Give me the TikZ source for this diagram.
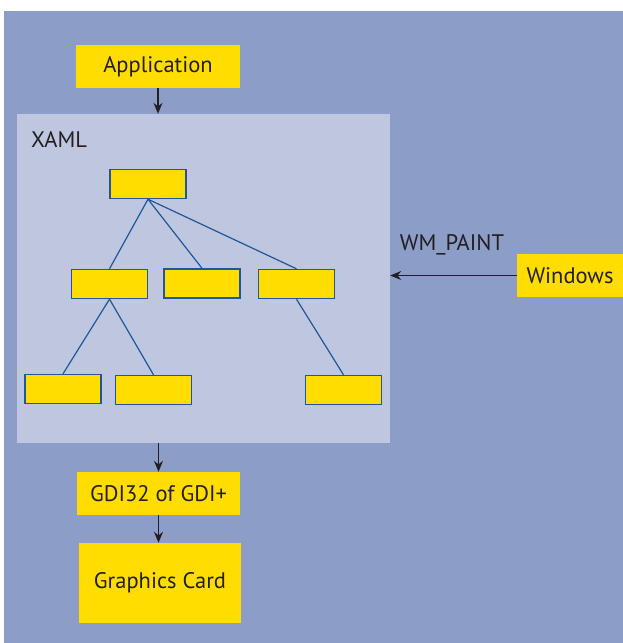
\documentclass[tikz,border=0pt]{standalone}
\usepackage{fontspec}
\setmainfont{PT Sans}
\usetikzlibrary{arrows.meta}
\definecolor{bgblue}{HTML}{8C9DC8}
\definecolor{panelblue}{HTML}{BFC6E0}
\definecolor{boxyellow}{HTML}{FFDD00}
\definecolor{treeblue}{HTML}{1F5799}
\definecolor{ink}{HTML}{231F20}
\begin{document}
\begin{tikzpicture}[x=1pt,y=-1pt,
		yellowbox/.style={fill=boxyellow, text=ink, font=\fontsize{22.5}{27}\selectfont, inner sep=0pt},
		leaf/.style={draw=treeblue, fill=boxyellow, line width=1.4pt, minimum width=76pt, minimum height=29pt, inner sep=0pt},
		flow/.style={-{Stealth[length=11pt,width=9pt]}, line width=1.3pt, ink},
		branch/.style={treeblue, line width=1.2pt}]
				\useasboundingbox (0,0) rectangle (623,643);
				\fill[bgblue] (4,11) rectangle (623,643);

				\node[fill=panelblue, minimum width=373pt, minimum height=329pt, inner sep=0pt] (xaml) at (203.5,278.5) {};
				\node[anchor=west, text=ink, font=\fontsize{22.5}{27}\selectfont, inner sep=0pt] (xamltext) at (31,139) {XAML};

				\node[yellowbox, minimum width=164pt, minimum height=43pt] (app) at (158,66.5) {Application};
				\node[yellowbox, minimum width=163pt, minimum height=43pt] (gdi) at (158.5,493.5) {GDI32 of GDI+};
				\node[yellowbox, minimum width=162pt, minimum height=80pt] (card) at (160,583) {Graphics Card};
				\node[yellowbox, minimum width=106pt, minimum height=43pt] (win) at (570,275.5) {Windows};
				\node[text=ink, font=\fontsize{22.5}{27}\selectfont, inner sep=0pt] (paint) at (452,245) {WM\_PAINT};

				\node[leaf] (root) at (148,184) {};
				\node[leaf] (a) at (109.5,284) {};
				\node[leaf] (b) at (202,283.5) {};
				\node[leaf] (c) at (296.5,284) {};
				\node[leaf] (d) at (63,389) {};
				\node[leaf] (e) at (153.5,390) {};
				\node[leaf] (f) at (343.5,390) {};

				\foreach \j in {a, b, c}{
						\draw[branch] (root.south) -- (\j.north);
					}
				\draw[branch] (a.south) -- (d.north);
				\draw[branch] (a.south) -- (e.north);
				\draw[branch] (c.south) -- (f.north);

				\draw[flow] (app.south) -- (app.south |- xaml.north);
				\draw[flow] (gdi.north |- xaml.south) -- (gdi.north);
				\draw[flow] (gdi.south) -- (gdi.south |- card.north);
				\draw[flow] (win.west) -- (win.west -| xaml.east);
			\end{tikzpicture}
\end{document}
